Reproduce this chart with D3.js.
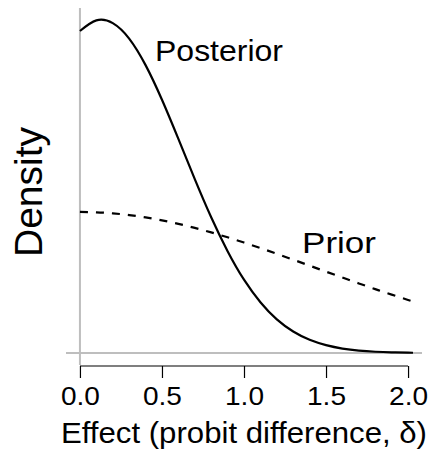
<!DOCTYPE html>
<html>
<head>
<meta charset="utf-8">
<script src="https://cdn.jsdelivr.net/npm/d3@7"></script>
<style>
  body { margin: 0; background: #fff; }
  text { font-family: "Liberation Sans", Arial, Helvetica, sans-serif; fill: #000; }
</style>
</head>
<body>
<div id="chart"></div>
<script>
// effect size grid (probit difference)
var delta = [0.0, 0.1, 0.2, 0.3, 0.4, 0.5, 0.6, 0.7, 0.8, 0.9, 1.0,
             1.1, 1.2, 1.3, 1.4, 1.5, 1.6, 1.7, 1.8, 1.9, 2.0, 2.03];

// densities
var posterior = [1.274, 1.316, 1.305, 1.244, 1.139, 1.002, 0.847, 0.688, 0.537, 0.403, 0.290,
                 0.201, 0.133, 0.085, 0.052, 0.031, 0.0175, 0.0095, 0.005, 0.0025, 0.0012, 0.0010];
var prior = [0.558, 0.5566, 0.5526, 0.5458, 0.5366, 0.5249, 0.5110, 0.4950, 0.4772, 0.4577, 0.4370,
             0.4151, 0.3924, 0.3691, 0.3456, 0.3219, 0.2984, 0.2753, 0.2527, 0.2309, 0.2099, 0.2036];

var xTicks = [0.0, 0.5, 1.0, 1.5, 2.0];

var margin = {top: 8, right: 10, bottom: 86, left: 66},
    width = 432 - margin.left - margin.right,
    height = 451 - margin.top - margin.bottom;

var svg = d3.select('#chart')
  .append('svg')
    .attr('width', 432)
    .attr('height', 451)
  .append('g')
    .attr('transform', 'translate(' + margin.left + ',' + margin.top + ')');

var x = d3.scaleLinear()
    .domain([-0.085, 2.085])
    .range([0, width]);

var y = d3.scaleLinear()
    .domain([-0.0475, 1.365])
    .range([height, 0]);

// gray reference lines at zero
svg.append('line')
    .attr('x1', 0).attr('x2', width)
    .attr('y1', y(0)).attr('y2', y(0))
    .attr('stroke', '#bebebe')
    .attr('stroke-width', 2);

svg.append('line')
    .attr('x1', x(0)).attr('x2', x(0))
    .attr('y1', 0).attr('y2', height)
    .attr('stroke', '#bebebe')
    .attr('stroke-width', 2);

// x axis, R style: line only from first to last tick
var xAxis = svg.append('g')
    .attr('transform', 'translate(0,' + (height + 1) + ')')
    .call(d3.axisBottom(x)
      .tickValues(xTicks)
      .tickSize(12)
      .tickPadding(9)
      .tickFormat(d3.format('.1f')));

xAxis.select('.domain').remove();
xAxis.selectAll('.tick line').attr('stroke', '#000').attr('stroke-width', 1.2);
// the reference glyphs are a bit wide, so stretch each label
xAxis.selectAll('.tick text')
    .style('font-size', '25px')
    .attr('fill', '#000')
    .attr('textLength', 39)
    .attr('lengthAdjust', 'spacingAndGlyphs')
    .attr('x', -19.5)
    .style('text-anchor', 'start');

xAxis.append('line')
    .attr('x1', x(xTicks[0])).attr('x2', x(xTicks[xTicks.length - 1]))
    .attr('y1', 0).attr('y2', 0)
    .attr('stroke', '#000')
    .attr('stroke-width', 1.2);

// axis titles
svg.append('text')
    .attr('x', width / 2 - 183)
    .attr('y', height + 78)
    .style('font-size', '29px')
    .attr('textLength', 366)
    .attr('lengthAdjust', 'spacingAndGlyphs')
    .text('Effect (probit difference, δ)');

svg.append('text')
    .attr('transform', 'translate(' + (42 - margin.left) + ',' + (192 - margin.top) + ') rotate(-90)')
    .style('text-anchor', 'middle')
    .style('font-size', '39px')
    .text('Density');

// density curves
var pts = function(vals) {
  return delta.map(function(d, i) { return [d, vals[i]]; });
};

var line = d3.line()
    .x(function(d) { return x(d[0]); })
    .y(function(d) { return y(d[1]); })
    .curve(d3.curveNatural);

svg.append('path')
    .datum(pts(prior))
    .attr('fill', 'none')
    .attr('stroke', '#000')
    .attr('stroke-width', 2.2)
    .attr('stroke-dasharray', '8 8')
    .attr('d', line);

svg.append('path')
    .datum(pts(posterior))
    .attr('fill', 'none')
    .attr('stroke', '#000')
    .attr('stroke-width', 2.2)
    .attr('d', line);

// curve labels
svg.append('text')
    .attr('x', 155 - margin.left)
    .attr('y', 61 - margin.top)
    .style('font-size', '30px')
    .attr('textLength', 128)
    .attr('lengthAdjust', 'spacingAndGlyphs')
    .text('Posterior');

svg.append('text')
    .attr('x', 302 - margin.left)
    .attr('y', 253 - margin.top)
    .style('font-size', '30px')
    .attr('textLength', 74)
    .attr('lengthAdjust', 'spacingAndGlyphs')
    .text('Prior');
</script>
</body>
</html>
